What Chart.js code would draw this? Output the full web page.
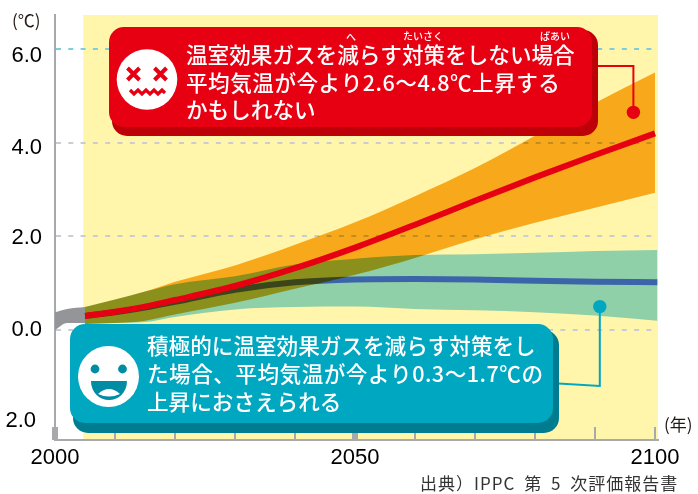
<!DOCTYPE html>
<html lang="ja"><head><meta charset="utf-8">
<style>html,body{margin:0;padding:0;background:#fff}canvas{display:block}</style>
<script src="https://cdn.jsdelivr.net/npm/chart.js@4"></script></head>
<body><canvas id="c" width="698" height="494"></canvas>
<script>
const years = [2005,2010,2015,2020,2030,2040,2050,2060,2070,2080,2090,2100];
const lowYears = [2005,2010,2015,2020,2030,2040,2050,2060,2070,2080,2090,2100.4];
const histYears = [2000,2002,2005];
const histUpper = [0.38,0.45,0.49];
const histLower = [0.0,0.15,0.15];
const highUpper = [0.49,0.65,0.82,1.03,1.38,1.82,2.30,2.86,3.46,4.15,4.85,5.50];
const highLower = [0.13,0.15,0.20,0.33,0.58,0.88,1.18,1.54,1.94,2.29,2.61,2.93];
const lowUpper  = [0.49,0.65,0.82,0.98,1.15,1.40,1.52,1.60,1.62,1.65,1.69,1.71];
const lowLower  = [0.13,0.15,0.17,0.28,0.44,0.49,0.50,0.45,0.42,0.38,0.31,0.20];
const highMean  = [0.30,0.39,0.50,0.64,0.94,1.32,1.76,2.25,2.76,3.26,3.74,4.20];
const lowMean   = [0.30,0.38,0.48,0.60,0.86,1.02,1.08,1.09,1.08,1.05,1.03,1.02];
const yTicks = [-2,0,2,4,6];
const yTickLabels = ['2.0','0.0','2.0','4.0','6.0'];
const xLabelled = [2000,2050,2100];
const highNote = ['温室効果ガスを減らす対策をしない場合','平均気温が今より2.6～4.8℃上昇する','かもしれない'];
const lowNote = ['積極的に温室効果ガスを減らす対策をし','た場合、平均気温が今より0.3～1.7℃の','上昇におさえられる'];
const highDot = [2096.4,4.65];
const lowDot = [2090.8,0.5];

const pts = (xs,ys)=>xs.map((x,i)=>({x,y:ys[i]}));
const labelShift = {'-2':[-6,-3],'0':[0,0],'2':[0,2],'4':[0,5],'6':[0,7]};
const JP = '"Noto Sans CJK JP"';
const band = (label,data,color,fill)=>({label,data,borderWidth:0,pointRadius:0,fill:fill?'+1':false,backgroundColor:color,cubicInterpolationMode:'monotone'});
const line = (label,data,color)=>({label,data,borderColor:color,borderWidth:6,pointRadius:0,fill:false,borderCapStyle:'butt',cubicInterpolationMode:'monotone'});

function rr(c,x,y,w,h,r,col){c.beginPath();c.roundRect(x,y,w,h,r);c.fillStyle=col;c.fill();}
function noPad(s){s.paddingTop=0;s.paddingBottom=0;s.paddingLeft=0;s.paddingRight=0;}

const deco = {
  id:'deco',
  beforeDraw(ch){
    const {ctx:c,chartArea:a,scales:{x,y}}=ch;
    c.save();c.fillStyle='#FFF6AB';c.fillRect(x.getPixelForValue(2004.7),a.top,a.right-x.getPixelForValue(2004.7),a.bottom-a.top);c.restore();
    y.getLabelItems().forEach((it,i)=>{const s=labelShift[yTicks[i]];it.options.translation=[it.options.translation[0]+s[0],it.options.translation[1]+s[1]];});
  },
  beforeDatasetsDraw(ch){ch.ctx.globalCompositeOperation='multiply';},
  afterDatasetDraw(ch,args){
    if(ch.data.datasets[args.index].label==='lowMean') ch.ctx.globalCompositeOperation='source-over';
  },
  afterDatasetsDraw(ch){ch.ctx.globalCompositeOperation='source-over';},
  afterDraw(ch){
    const {ctx:c,scales:{x,y},chartArea:a}=ch;
    c.save();
    // inward axis ticks
    c.fillStyle='#A7A9AC';
    x.ticks.forEach(t=>{
      const px=x.getPixelForValue(t.value);
      const w=(t.value===2000||t.value===2050)?6:2;
      c.fillRect(px-w/2,a.bottom-13,w,13);
    });
    // red leader and dot
    const hx=x.getPixelForValue(highDot[0]),hy=y.getPixelForValue(highDot[1]);
    c.strokeStyle='#E60012';c.lineWidth=2;c.beginPath();c.moveTo(590,66);c.lineTo(hx,66);c.lineTo(hx,hy);c.stroke();
    c.fillStyle='#E60012';c.beginPath();c.arc(hx,hy,6.7,0,7);c.fill();
    // blue leader and dot
    const lx=x.getPixelForValue(lowDot[0]),ly=y.getPixelForValue(lowDot[1]);
    c.strokeStyle='#00A7C0';c.beginPath();c.moveTo(lx,ly);c.lineTo(lx,386);c.lineTo(550,383);c.stroke();
    c.fillStyle='#00A7C0';c.beginPath();c.arc(lx,ly,6.7,0,7);c.fill();
    // red box
    rr(c,112,30,486,106,15,'#BE0008');
    rr(c,109,27,483,100,15,'#E60012');
    // blue box
    rr(c,73,330,486,103,15,'#007C90');
    rr(c,70,324,483,99,15,'#00A7C0');
    // text in boxes
    c.fillStyle='#fff';c.textBaseline='middle';c.textAlign='left';
    c.font='500 21.6px '+JP;
    highNote.forEach((s,i)=>{c.letterSpacing=i===1?'0.5px':'0px';c.fillText(s,186,[55,82.5,110][i]);});
    lowNote.forEach((s,i)=>{c.letterSpacing=i===1?'0.5px':'0px';c.fillText(s,147,[346,374,402][i]);});
    c.letterSpacing='0px';
    c.font='500 10px '+JP;c.textAlign='center';
    c.fillText('へ',351,37);c.fillText('たいさく',423,36);c.fillText('ばあい',555,36);
    // red face
    c.beginPath();c.arc(147,79.5,30.3,0,7);c.fillStyle='#fff';c.fill();
    c.strokeStyle='#E60012';c.lineWidth=4;c.lineCap='butt';
    [[133.5,74],[160.5,74]].forEach(([ex,ey])=>{c.beginPath();c.moveTo(ex-6,ey-6);c.lineTo(ex+6,ey+6);c.moveTo(ex+6,ey-6);c.lineTo(ex-6,ey+6);c.stroke();});
    c.lineWidth=3.2;c.beginPath();
    [[130,90],[134,94],[138,90],[142,94],[146,90],[150,94],[154,90],[158,94],[162,90],[165,93]].forEach(([mx,my],i)=>i?c.lineTo(mx,my):c.moveTo(mx,my));
    c.stroke();
    // blue face
    c.beginPath();c.arc(108.5,376.5,30.5,0,7);c.fillStyle='#fff';c.fill();
    c.fillStyle='#008CA3';
    [[95,369],[122.5,369]].forEach(([ex,ey])=>{c.beginPath();c.arc(ex,ey,4.4,0,7);c.fill();});
    c.beginPath();c.moveTo(91,381);c.lineTo(127,381);c.bezierCurveTo(127,393,118,400,109,400);c.bezierCurveTo(100,400,91,393,91,381);c.closePath();c.fill();
    c.fillStyle='#fff';c.beginPath();c.moveTo(98,394);c.quadraticCurveTo(109,384,120,394);c.quadraticCurveTo(109,399,98,394);c.fill();
    // outside labels
    c.fillStyle='#231815';c.textAlign='left';
    c.font='17px '+JP;c.fillText('(℃)',12,21);
    c.fillText('(年)',664,425);
    c.font='17px '+JP;c.fillStyle='#333';c.letterSpacing='1px';c.wordSpacing='4px';
    c.fillText('出典）IPPC 第 5 次評価報告書',420,484);
    c.restore();
  }
};

new Chart(document.getElementById('c'),{
  type:'line',
  data:{datasets:[
    line('highMean',pts(years,highMean),'#E60012'),
    band('histUpper',pts(histYears,histUpper),'#939598',true),
    band('histLower',pts(histYears,histLower),'#939598',false),
    line('lowMean',pts(lowYears,lowMean),'#6A7AFF'),
    band('lowUpper',pts(lowYears,lowUpper),'#90D8FB',true),
    band('lowLower',pts(lowYears,lowLower),'#90D8FB',false),
    band('highUpper',pts(years,highUpper),'#F7AF28',true),
    band('highLower',pts(years,highLower),'#F7AF28',false)
  ]},
  plugins:[deco],
  options:{
    responsive:false,animation:false,
    layout:{padding:{top:15,right:40,left:0,bottom:0}},
    plugins:{legend:{display:false},tooltip:{enabled:false},filler:{propagate:false}},
    clip:false,
    scales:{
      x:{type:'linear',min:2000,max:2100.5,bounds:'data',
        afterFit(s){s.height=54;noPad(s);},
        grid:{display:false,drawTicks:false},
        border:{display:true,color:'#A7A9AC',width:2},
        ticks:{stepSize:10,includeBounds:false,autoSkip:false,maxRotation:0,padding:5,color:'#000',
          font:{family:'"Liberation Sans"',size:22},
          callback:v=>xLabelled.includes(v)?String(v):''}},
      y:{type:'linear',min:-2.35,max:6.73,bounds:'data',
        afterFit(s){s.width=55;noPad(s);},
        afterBuildTicks(s){s.ticks=yTicks.map(v=>({value:v}));},
        grid:{drawTicks:false,lineWidth:2,
          color:c=>c.tick.value===6?'#7FCDDB':c.tick.value===-2?'rgba(0,0,0,0)':'#CACCD3'},
        border:{display:true,color:'#A7A9AC',width:2,dash:[5,7.3]},
        ticks:{stepSize:2,includeBounds:false,padding:13,color:'#000',font:{family:'"Liberation Sans"',size:22},
          callback:v=>yTickLabels[yTicks.indexOf(v)]}}
    }
  }
});
</script></body></html>
